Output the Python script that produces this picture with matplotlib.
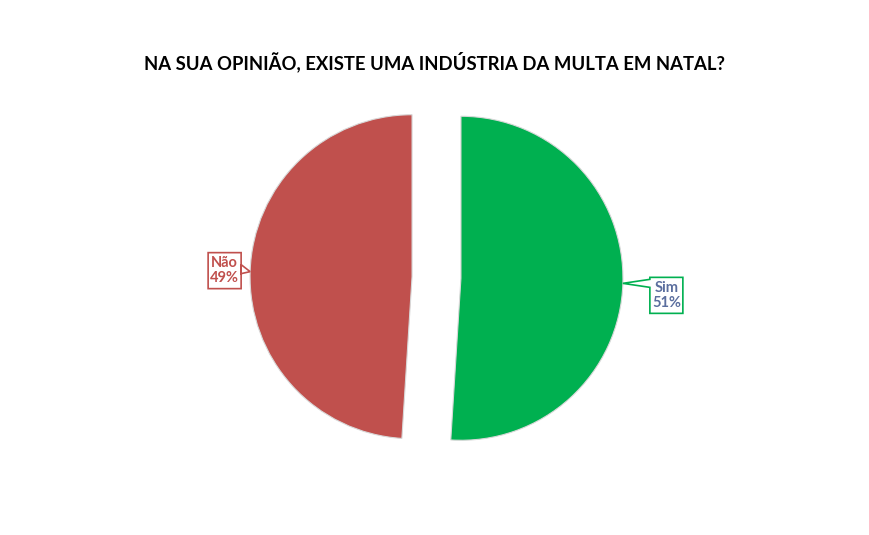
import numpy as np
import matplotlib
matplotlib.use("Agg")
import matplotlib.pyplot as plt
from matplotlib.patches import Polygon

# Data
labels = ["Sim", "Não"]
values = [51, 49]
colors = ["#00B050", "#C0504D"]
text_colors = ["#5B6E9E", "#C0504D"]
title = "NA SUA OPINIÃO, EXISTE UMA INDÚSTRIA DA MULTA EM NATAL?"

plt.rcParams['font.family'] = ['Lato', 'DejaVu Sans']

W, H = 870, 535
fig = plt.figure(figsize=(W / 100, H / 100), dpi=100)
ax = fig.add_axes([0, 0, 1, 1])
ax.set_xlim(0, W)
ax.set_ylim(0, H)
ax.set_aspect('equal')
ax.axis('off')

cx, cy, r = 436.5, H - 277.5, 162
gap = 0.151 * r
wedges, _ = ax.pie(values, colors=colors, startangle=90, counterclock=False,
                   center=(cx, cy), radius=r, explode=[gap, gap],
                   wedgeprops=dict(edgecolor='#d8d8d8', linewidth=0.8))
ax.set_xlim(0, W)
ax.set_ylim(0, H)

fig.text(0.5, 1 - 62 / H, title, ha='center', va='center',
         fontsize=13.3, fontweight='bold', color='black')

# callout labels
for w, lab, v, tc, ec in zip(wedges, labels, values, text_colors, colors):
    mid = np.deg2rad((w.theta1 + w.theta2) / 2)
    wx, wy = w.center
    px = wx + r * np.cos(mid)
    py = wy + r * np.sin(mid)
    bw, bh = 33, 36
    if np.cos(mid) > 0:
        bx0 = px + 27
        by0 = py - 13 - bh / 2 + 1
        # box with tail on left side
        pts = [(bx0, by0), (bx0 + bw, by0), (bx0 + bw, by0 + bh), (bx0, by0 + bh),
               (bx0, by0 + bh - 2), (px, py), (bx0, by0 + bh - 10)]
    else:
        bx0 = px - 9 - bw
        by0 = py - 18 + 1
        pts = [(bx0, by0), (bx0 + bw, by0), (bx0 + bw, by0 + bh - 12), (px, py),
               (bx0 + bw, by0 + bh - 21), (bx0 + bw, by0 + bh), (bx0, by0 + bh)]
    ax.add_patch(Polygon(pts, closed=True, facecolor='white', edgecolor=ec, linewidth=1.2))
    ax.text(bx0 + bw / 2, by0 + bh / 2, f"{lab}\n{v}%", ha='center', va='center',
            fontsize=10.5, fontweight='bold', color=tc, linespacing=1.15)

fig.savefig("out.png", dpi=100, facecolor='white')
